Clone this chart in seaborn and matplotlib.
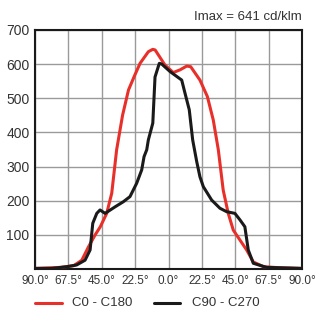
import matplotlib
matplotlib.use("Agg")
import matplotlib.pyplot as plt
import numpy as np
import pandas as pd
import seaborn as sns

# C0 - C180 curve (angle in degrees, cd/klm)
red_angle = [-90, -73, -64, -58.5, -54, -49.5, -46, -41.7, -38.3, -35, -31, -27,
             -23, -19.2, -13.6, -10.6, -9, -2.4, 3.2, 7.8, 12.3, 15, 21.2, 26.2,
             30.2, 33.6, 36.9, 40.3, 43.7, 48.2, 52.7, 57.2, 64, 75, 90]
red_value = [2, 5, 10, 26, 65, 100, 124, 163, 222, 349, 450, 524,
             565, 602, 636, 643, 641, 597, 575, 583, 594, 592, 553, 505,
             436, 349, 231, 163, 114, 85, 56, 21, 7, 4, 2]

# C90 - C270 curve
black_angle = [-90, -78.7, -68.6, -62, -56.3, -52.9, -51.1, -48.4, -46.2, -42.8,
               -36.1, -30.5, -26, -21.5, -18.1, -16.5, -14.7, -13.6, -10.6, -9.1,
               -6.2, -4.6, 1, 8.9, 11.1, 14, 16.3, 19, 21.2, 23.5, 29.1,
               34.7, 39.2, 44.8, 48.2, 51.5, 53.8, 57.2, 66.2, 90]
black_value = [2, 2, 7, 12, 26, 56, 134, 163, 173, 163,
               182, 197, 212, 251, 290, 329, 349, 378, 427, 562,
               602, 600, 578, 553, 515, 466, 378, 315, 270, 241, 202,
               178, 168, 163, 144, 124, 56, 17, 5, 2]

x_ticks = [-90, -67.5, -45, -22.5, 0, 22.5, 45, 67.5, 90]
x_labels = ["90.0°", "67.5°", "45.0°", "22.5°", "0.0°", "22.5°", "45.0°", "67.5°", "90.0°"]
y_ticks = [100, 200, 300, 400, 500, 600, 700]

df = pd.concat([
    pd.DataFrame({"angle": red_angle, "value": red_value, "plane": "C0 - C180"}),
    pd.DataFrame({"angle": black_angle, "value": black_value, "plane": "C90 - C270"}),
])

sns.set_theme(style="white")
plt.rcParams['font.family'] = ['Liberation Sans', 'DejaVu Sans']

fig = plt.figure(figsize=(3.25, 3.14), dpi=100)
ax = fig.add_axes([0.108, 0.143, 0.821, 0.762])

sns.lineplot(data=df, x="angle", y="value", hue="plane", sort=False,
             palette={"C0 - C180": "#e8302a", "C90 - C270": "#1a1a1a"},
             linewidth=2.2, ax=ax, legend=False, zorder=3)

ax.set_xlim(-90, 90)
ax.set_ylim(0, 700)
ax.set_xticks(x_ticks)
ax.set_xticklabels(x_labels)
ax.set_yticks(y_ticks)
ax.grid(True, color="#9a9a9a", linewidth=1.0)
ax.set_axisbelow(True)
for s in ax.spines.values():
    s.set_color("#1a1a1a")
    s.set_linewidth(1.5)
ax.tick_params(axis="both", length=0, colors="#333333", pad=4)
ax.tick_params(axis="y", labelsize=10)
ax.tick_params(axis="x", labelsize=8.5)
ax.set_xlabel("")
ax.set_ylabel("")

ax.text(1.0, 1.03, "Imax = 641 cd/klm", transform=ax.transAxes, ha="right",
        va="bottom", fontsize=9.5, color="#333333")

# legend drawn below the axes
fig.add_artist(plt.Line2D([0.108, 0.19], [0.035, 0.035], color="#e8302a", lw=2.2))
fig.text(0.22, 0.035, "C0 - C180", va="center", fontsize=9.5, color="#333333")
fig.add_artist(plt.Line2D([0.475, 0.555], [0.035, 0.035], color="#1a1a1a", lw=2.2))
fig.text(0.59, 0.035, "C90 - C270", va="center", fontsize=9.5, color="#333333")

fig.savefig("out.png", dpi=100)
